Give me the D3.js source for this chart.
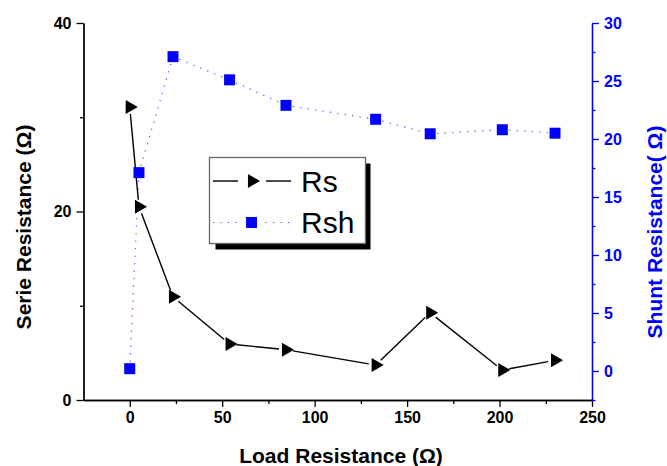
<!DOCTYPE html>
<html>
<head>
<meta charset="utf-8">
<script src="https://cdn.jsdelivr.net/npm/d3@7"></script>
<style>
body { margin: 0; background: #fff; }
svg { display: block; font-family: "Liberation Sans", Arial, sans-serif; }
.axis text { font-size: 16px; font-weight: bold; }
</style>
</head>
<body>
<div id="chart-area"></div>
<script>
// values
var loadRes = [0, 5, 23.4, 54, 84.5, 133, 162.5, 201.5, 230];
var rsValues = [31.1, 20.5, 10.96, 5.94, 5.34, 3.71, 9.26, 3.18, 4.21];
var rshValues = [0.2, 17.1, 27.1, 25.1, 22.9, 21.7, 20.45, 20.8, 20.5];

var xTicks = [0, 50, 100, 150, 200, 250];
var xMinor = [25, 75, 125, 175, 225];
var leftTicks = [0, 20, 40];
var leftMinor = [10, 30];
var rightTicks = [0, 5, 10, 15, 20, 25, 30];
var rightMinor = [-2.5, 2.5, 7.5, 12.5, 17.5, 22.5, 27.5];

var seriesNames = ["Rs", "Rsh"];

var margin = {left: 83.5, right: 75, top: 23, bottom: 66};
var width = 667 - margin.left - margin.right;
var height = 466 - margin.top - margin.bottom;
var blue = "#0000ff";
var gap = 7;

var svg = d3.select("#chart-area")
	.append("svg")
	.attr("width", 667)
	.attr("height", 466);

var g = svg.append("g")
	.attr("transform", "translate(" + margin.left + ", " + margin.top + ")");

var x = d3.scaleLinear()
	.domain([-25, 250])
	.range([0, width]);

var yLeft = d3.scaleLinear()
	.domain([0, 40])
	.range([height, 0]);

var yRight = d3.scaleLinear()
	.domain([-2.5, 30])
	.range([height, 0]);

// axes
function styleAxis(sel, color) {
	sel.selectAll("path, line").attr("stroke", color).attr("stroke-width", 1.3);
	sel.selectAll("text").attr("fill", color);
}

var xAxisGroup = g.append("g")
	.attr("class", "axis")
	.attr("transform", "translate(0, " + height + ")")
	.call(d3.axisBottom(x).tickValues(xTicks).tickSize(7).tickSizeOuter(0).tickPadding(5));
xAxisGroup.append("g")
	.call(d3.axisBottom(x).tickValues(xMinor).tickSize(4).tickSizeOuter(0).tickFormat(""));
styleAxis(xAxisGroup, "#000");

var yAxisGroup = g.append("g")
	.attr("class", "axis")
	.call(d3.axisLeft(yLeft).tickValues(leftTicks).tickSize(7).tickSizeOuter(0).tickPadding(5));
yAxisGroup.append("g")
	.call(d3.axisLeft(yLeft).tickValues(leftMinor).tickSize(3.5).tickSizeOuter(0).tickFormat(""));
styleAxis(yAxisGroup, "#000");

var rightAxisGroup = g.append("g")
	.attr("class", "axis")
	.attr("transform", "translate(" + width + ", 0)")
	.call(d3.axisRight(yRight).tickValues(rightTicks).tickSize(7).tickSizeOuter(0).tickPadding(5));
rightAxisGroup.append("g")
	.call(d3.axisRight(yRight).tickValues(rightMinor).tickSize(3.5).tickSizeOuter(0).tickFormat(""));
styleAxis(rightAxisGroup, blue);

// axis titles
svg.append("text")
	.attr("x", 341)
	.attr("y", 463)
	.attr("text-anchor", "middle")
	.attr("font-size", "21px")
	.attr("font-weight", "bold")
	.text("Load Resistance (Ω)");

svg.append("text")
	.attr("transform", "translate(31, 227) rotate(-90)")
	.attr("text-anchor", "middle")
	.attr("font-size", "21px")
	.attr("font-weight", "bold")
	.text("Serie Resistance (Ω)");

svg.append("text")
	.attr("transform", "translate(662, 232) rotate(-90)")
	.attr("text-anchor", "middle")
	.attr("font-size", "21px")
	.attr("font-weight", "bold")
	.attr("fill", blue)
	.text("Shunt Resistance( Ω)");

// segments with a small gap round each marker
function segments(ys, yScale) {
	var segs = [];
	for (var i = 0; i < loadRes.length - 1; i++) {
		var x1 = x(loadRes[i]), y1 = yScale(ys[i]);
		var x2 = x(loadRes[i + 1]), y2 = yScale(ys[i + 1]);
		var len = Math.sqrt((x2 - x1) * (x2 - x1) + (y2 - y1) * (y2 - y1));
		if (len <= 2 * gap) continue;
		var ux = (x2 - x1) / len, uy = (y2 - y1) / len;
		segs.push([x1 + ux * gap, y1 + uy * gap, x2 - ux * gap, y2 - uy * gap]);
	}
	return segs;
}

g.selectAll(".rsh-line")
	.data(segments(rshValues, yRight))
	.enter().append("line")
	.attr("class", "rsh-line")
	.attr("x1", (d) => d[0]).attr("y1", (d) => d[1])
	.attr("x2", (d) => d[2]).attr("y2", (d) => d[3])
	.attr("stroke", blue)
	.attr("stroke-opacity", 0.7)
	.attr("stroke-width", 1.2)
	.attr("stroke-dasharray", "1.2,6.3");

g.selectAll(".rs-line")
	.data(segments(rsValues, yLeft))
	.enter().append("line")
	.attr("class", "rs-line")
	.attr("x1", (d) => d[0]).attr("y1", (d) => d[1])
	.attr("x2", (d) => d[2]).attr("y2", (d) => d[3])
	.attr("stroke", "#000")
	.attr("stroke-width", 1.4);

var triangle = d3.symbol().type(d3.symbolTriangle).size(85);
var square = d3.symbol().type(d3.symbolSquare).size(121);

g.selectAll(".rsh-point")
	.data(loadRes)
	.enter().append("path")
	.attr("class", "rsh-point")
	.attr("d", square)
	.attr("transform", (d, i) => "translate(" + x(d) + "," + yRight(rshValues[i]) + ")")
	.attr("fill", blue);

g.selectAll(".rs-point")
	.data(loadRes)
	.enter().append("path")
	.attr("class", "rs-point")
	.attr("d", triangle)
	.attr("transform", (d, i) => "translate(" + x(d) + "," + yLeft(rsValues[i]) + ") rotate(90)")
	.attr("fill", "#000");

// legend
var legend = svg.append("g");

legend.append("rect")
	.attr("x", 215.5).attr("y", 163.5)
	.attr("width", 155).attr("height", 86)
	.attr("fill", "#000");

legend.append("rect")
	.attr("x", 209.5).attr("y", 157.5)
	.attr("width", 156).attr("height", 86)
	.attr("fill", "#fff")
	.attr("stroke", "#666")
	.attr("stroke-width", 1.3);

seriesNames.forEach((name, i) => {
	var row = legend.append("g")
		.attr("transform", "translate(0, " + (i == 0 ? 181 : 222.5) + ")");

	if (i == 0) {
		row.append("line").attr("x1", 213).attr("x2", 238).attr("stroke", "#000").attr("stroke-width", 1.4);
		row.append("line").attr("x1", 266).attr("x2", 291).attr("stroke", "#000").attr("stroke-width", 1.4);
		row.append("path").attr("d", triangle).attr("transform", "translate(252, 0) rotate(90)").attr("fill", "#000");
	} else {
		row.append("line").attr("x1", 213).attr("x2", 291)
			.attr("stroke", blue).attr("stroke-opacity", 0.7)
			.attr("stroke-width", 1.2).attr("stroke-dasharray", "1.2,6.3");
		row.append("rect").attr("x", 243).attr("y", -6).attr("width", 17).attr("height", 12).attr("fill", "#fff");
		row.append("path").attr("d", square).attr("transform", "translate(251.5, 0)").attr("fill", blue);
	}

	row.append("text")
		.attr("x", 301)
		.attr("y", 10.5)
		.attr("font-size", "30px")
		.text(name);
});
</script>
</body>
</html>
